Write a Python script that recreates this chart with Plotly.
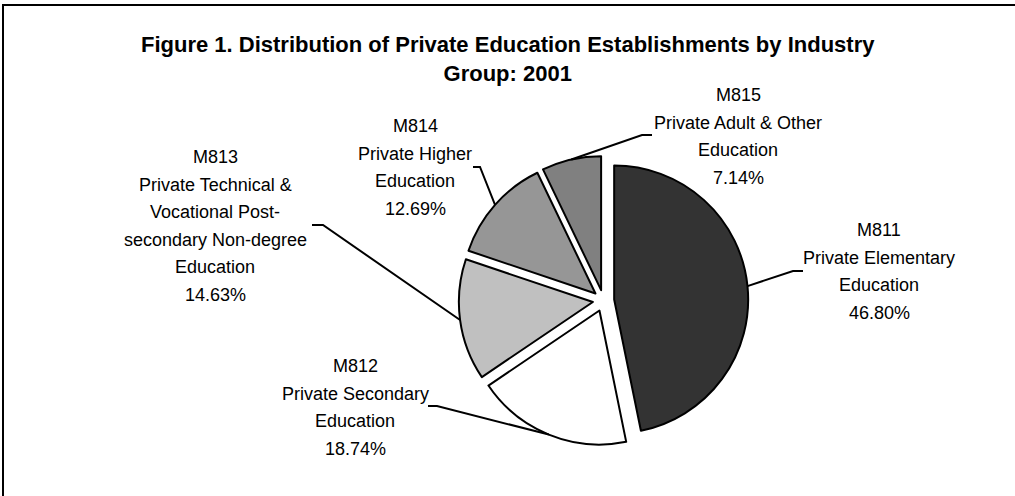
import math
import plotly.graph_objects as go

# ---- data ----
codes = ["M811", "M812", "M813", "M814", "M815"]
name_lines = [
    ["Private Elementary", "Education"],
    ["Private Secondary", "Education"],
    ["Private Technical &", "Vocational Post-", "secondary Non-degree", "Education"],
    ["Private Higher", "Education"],
    ["Private Adult & Other", "Education"],
]
shares = [46.80, 18.74, 14.63, 12.69, 7.14]
colors = ["#333333", "#ffffff", "#c0c0c0", "#969696", "#808080"]
title_lines = ["Figure 1. Distribution of Private Education Establishments by Industry", "Group: 2001"]

# ---- layout constants (pixels) ----
W, H = 1015, 496
FONT = "Liberation Sans, Arial, sans-serif"
PULL = 0.08
CX, CY, R = 603.5, 300.6, 134.0
LINE_GAP = 27.6
# label center x, first line y, leader end at label (x,y), elbow x
label_pos = [
    (879, 230, 803, 271, 793),
    (355, 366, 428, 406, 437),
    (215, 157, 312, 225, 323),
    (415, 126, 473, 167, 480),
    (738, 95, 652, 135, 642),
]


def px(x):
    return x / W


def py(y):
    return 1 - y / H


half = R * (1 + PULL)
fig = go.Figure(go.Pie(
    values=shares,
    labels=codes,
    sort=False,
    direction="clockwise",
    rotation=0,
    pull=[PULL] * len(shares),
    marker=dict(colors=colors, line=dict(color="black", width=2)),
    textinfo="none",
    hoverinfo="label+percent",
    showlegend=False,
    domain=dict(x=[px(CX - half), px(CX + half)], y=[py(CY + half), py(CY - half)]),
))

annotations = []
shapes = []
annotations.append(dict(
    text="<b>%s</b>" % "<br>".join(title_lines), x=px(508), y=py(59),
    xref="paper", yref="paper", xanchor="center", yanchor="middle",
    showarrow=False, align="center",
    font=dict(family=FONT, size=22, color="black")))

total = sum(shares)
cum = 0.0
for i, v in enumerate(shares):
    lines = [codes[i]] + name_lines[i] + ["%.2f%%" % v]
    lx, ly, ex, ey, elx = label_pos[i]
    for j, ln in enumerate(lines):
        annotations.append(dict(
            text=ln, x=px(lx), y=py(ly + j * LINE_GAP), xref="paper", yref="paper",
            xanchor="center", yanchor="middle", showarrow=False,
            font=dict(family=FONT, size=18, color="black")))
    theta = 2 * math.pi * (cum + v / 2) / total
    cum += v
    ax = CX + (1 + PULL) * R * math.sin(theta)
    ay = CY - (1 + PULL) * R * math.cos(theta)
    path = "M %f %f L %f %f L %f %f" % (px(ex), py(ey), px(elx), py(ey), px(ax), py(ay))
    shapes.append(dict(type="path", path=path, xref="paper", yref="paper",
                       line=dict(color="black", width=2)))

# outer frame
shapes.append(dict(type="rect", xref="paper", yref="paper",
                   x0=px(3), x1=1.02, y0=-0.02, y1=py(5),
                   line=dict(color="black", width=2), fillcolor="rgba(0,0,0,0)"))

fig.update_layout(
    width=W, height=H,
    margin=dict(l=0, r=0, t=0, b=0),
    paper_bgcolor="white", plot_bgcolor="white",
    annotations=annotations, shapes=shapes,
)
fig.write_html(
    "out.html",
    config={"displayModeBar": False},
    post_script="document.body.style.margin='0';document.body.style.overflow='hidden';",
)
